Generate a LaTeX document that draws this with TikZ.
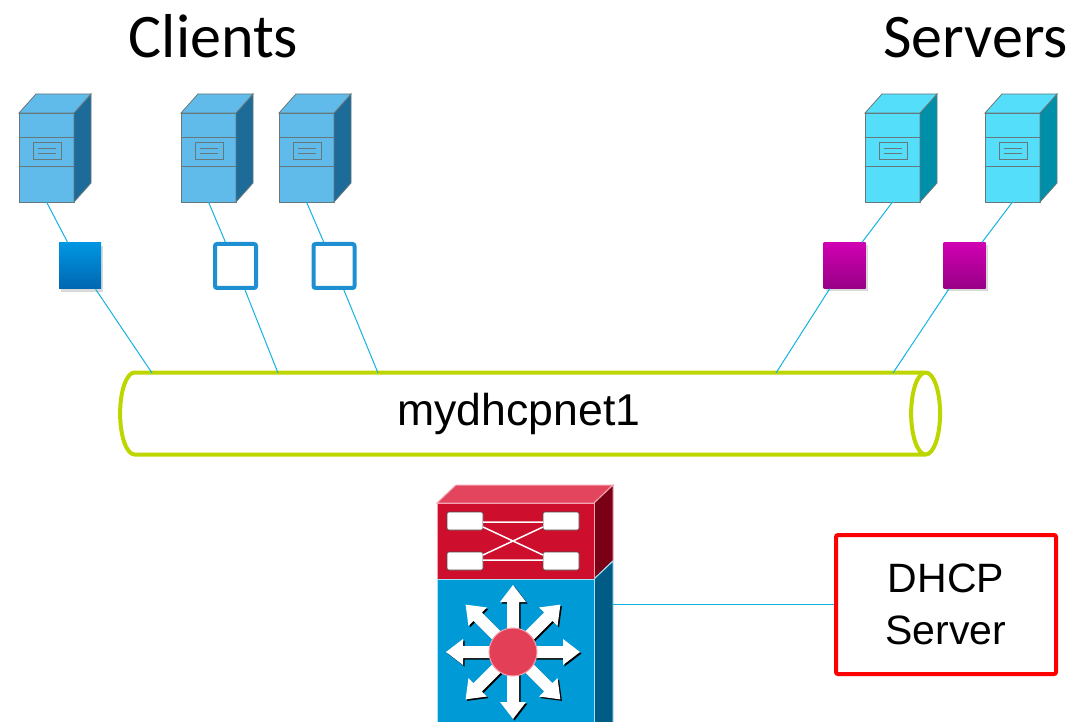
\documentclass[tikz,border=0pt]{standalone}
\usepackage{fontspec}
\setmainfont{Liberation Sans}
\newfontfamily\calibri{Carlito}
\usetikzlibrary{calc,shapes.geometric,shadows}

\definecolor{cliFront}{HTML}{60BBEB}
\definecolor{cliSide}{HTML}{1D6B99}
\definecolor{srvFront}{HTML}{55DEFA}
\definecolor{srvSide}{HTML}{008FA8}
\definecolor{boxEdge}{HTML}{66787A}
\definecolor{linkCyan}{HTML}{14B2E2}
\definecolor{portBlue}{HTML}{1E8FD0}
\definecolor{portTop}{HTML}{0096E2}
\definecolor{portBot}{HTML}{0066B0}
\definecolor{magTop}{HTML}{D000B2}
\definecolor{magBot}{HTML}{980086}
\definecolor{tubeGreen}{HTML}{BED600}
\definecolor{swRed}{HTML}{CE0E2D}
\definecolor{swRedTop}{HTML}{E4455E}
\definecolor{swRedSide}{HTML}{7A0016}
\definecolor{swRedEdge}{HTML}{F4A3B0}
\definecolor{swBlue}{HTML}{009AD6}
\definecolor{swBlueSide}{HTML}{005C85}
\definecolor{swBlueEdge}{HTML}{A8E4F7}
\definecolor{hubRed}{HTML}{E34058}

\begin{document}
\begin{tikzpicture}[x=1pt, y=-1pt,
    link/.style={draw=linkCyan, line width=1pt},
    server/.style={rectangle, draw=boxEdge, line width=0.8pt, inner sep=0pt,
      outer sep=0pt, minimum width=55pt, minimum height=89pt},
    client/.style={server, fill=cliFront},
    host/.style={server, fill=srvFront},
    port/.style={rectangle, inner sep=0pt, minimum width=42pt, minimum height=46pt},
    porton/.style={port, top color=portTop, bottom color=portBot,
      drop shadow={opacity=0.3, shadow xshift=2pt, shadow yshift=-3pt}},
    portoff/.style={port, draw=portBlue, fill=white, line width=4pt,
      rounded corners=2pt, minimum width=41pt, minimum height=44pt},
    portmag/.style={port, top color=magTop, bottom color=magBot,
      drop shadow={opacity=0.3, shadow xshift=2pt, shadow yshift=-3pt}},
    title/.style={font=\calibri\fontsize{62}{70}\selectfont, anchor=base}]
  \useasboundingbox (0,0) rectangle (1077,722);

  \node[title] (clients) at (213.5,58) {Clients};
  \node[title] (servers) at (975.5,58) {Servers};

  % machines
  \node[client] (cl1) at (46.5,157.5) {};
  \node[client] (cl2) at (208.5,157.5) {};
  \node[client] (cl3) at (306.5,157.5) {};
  \node[host] (sv1) at (892.5,157.5) {};
  \node[host] (sv2) at (1012.5,157.5) {};
  \foreach \n/\top/\side in {cl1/cliFront/cliSide, cl2/cliFront/cliSide,
      cl3/cliFront/cliSide, sv1/srvFront/srvSide, sv2/srvFront/srvSide} {
    \filldraw[draw=boxEdge, line width=0.8pt, fill=\side]
      (\n.north east) -- ++(17,-19) -- ++(0,89) -- (\n.south east) -- cycle;
    \filldraw[draw=boxEdge, line width=0.8pt, fill=\top]
      (\n.north west) -- ++(17,-19) -- ++(55,0) -- (\n.north east) -- cycle;
    \draw[boxEdge, line width=0.8pt]
      ([yshift=-24pt]\n.north west) -- ([yshift=-24pt]\n.north east)
      ([yshift=-53pt]\n.north west) -- ([yshift=-53pt]\n.north east)
      ([shift={(14,29)}]\n.north west) rectangle ([shift={(42,46)}]\n.north west)
      ([shift={(19,35)}]\n.north west) -- ([shift={(37,35)}]\n.north west)
      ([shift={(19,40)}]\n.north west) -- ([shift={(37,40)}]\n.north west);
  }

  % ports
  \node[porton] (p1) at (80,266) {};
  \node[portoff] (p2) at (235.5,266) {};
  \node[portoff] (p3) at (334,266) {};
  \node[portmag] (p4) at (844.5,265.5) {};
  \node[portmag] (p5) at (964.5,265.5) {};

  % network
  \node[cylinder, draw=tubeGreen, line width=4pt, aspect=0.6,
    minimum height=820pt, minimum width=82pt,
    font=\fontsize{44.6}{50}\selectfont] (net) at (519,413.5) {mydhcpnet1};
  \coordinate (t1) at (152,373);
  \coordinate (t2) at (278,373);
  \coordinate (t3) at (378,373);
  \coordinate (t4) at (776,373);
  \coordinate (t5) at (893,373);
  \draw[link] (cl1.south) -- (p1) -- (t1);
  \draw[link] (cl2.south) -- (p2) -- (t2);
  \draw[link] (cl3.south) -- (p3) -- (t3);
  \draw[link] (sv1.south) -- (p4) -- (t4);
  \draw[link] (sv2.south) -- (p5) -- (t5);

  % multilayer switch
  \begin{scope}
    \clip (0,0) rectangle (1077,722);
    \filldraw[draw=swRedEdge, line width=1pt, fill=swRedTop]
      (437,503) -- (456,485) -- (613,485) -- (594,503) -- cycle;
    \filldraw[draw=swRedEdge, line width=1pt, fill=swRedSide]
      (594,503) -- (613,485) -- (613,561) -- (594,579) -- cycle;
    \filldraw[draw=swBlueEdge, line width=1pt, fill=swBlueSide]
      (594,579) -- (613,561) -- (613,730) -- (594,730) -- cycle;
    \node[draw=swRedEdge, fill=swRed, line width=1pt, inner sep=0pt, outer sep=0pt,
      anchor=north west, minimum width=157pt, minimum height=76pt] (swtop) at (437,503) {};
    \node[draw=swBlueEdge, fill=swBlue, line width=1pt, inner sep=0pt, outer sep=0pt,
      anchor=north west, minimum width=157pt, minimum height=150pt] (sw) at (437,579) {};
    \foreach \x in {447,543}
      \foreach \y in {512,552}
        \filldraw[draw=black!70, line width=0.6pt, fill=white, rounded corners=2pt]
          (\x,\y) rectangle ++(36,18);
    \draw[white, line width=1.5pt] (483,522) -- (543,522) (483,560) -- (543,560)
      (483,527) -- (543,555) (483,555) -- (543,527);
    \foreach \a in {0,45,...,315} {
      \fill[black, shift={(514.5,653.5)}, rotate=\a]
        (0,-6) -- (50,-6) -- (50,-13) -- (67,0) -- (50,13) -- (50,6) -- (0,6) -- cycle;
      \fill[white, shift={(513,652)}, rotate=\a]
        (0,-6) -- (50,-6) -- (50,-13) -- (67,0) -- (50,13) -- (50,6) -- (0,6) -- cycle;
    }
    \filldraw[draw=swRedEdge, line width=1pt, fill=hubRed] (513,652) circle (24);
  \end{scope}

  % dhcp server
  \node[draw=red, line width=4pt, rounded corners=2pt, align=center,
    minimum width=220pt, minimum height=139pt,
    font=\fontsize{41}{52}\selectfont] (dhcp) at (946,604.5) {DHCP\\Server};
  \coordinate (swport) at (613,604.5);
  \draw[link] (swport) -- (dhcp);
\end{tikzpicture}
\end{document}
